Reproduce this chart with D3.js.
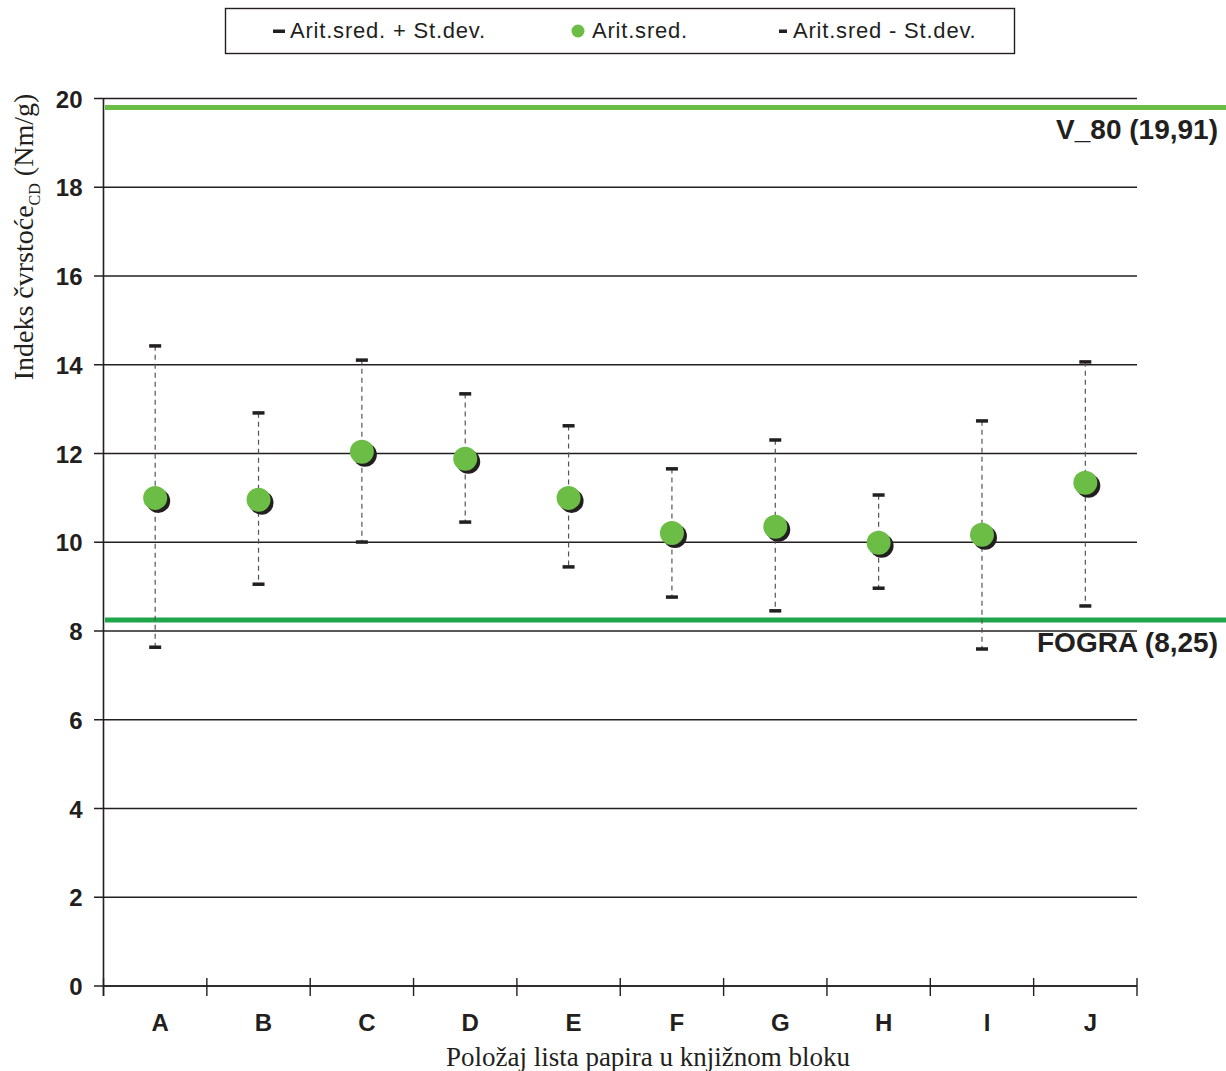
<!DOCTYPE html>
<html>
<head>
<meta charset="utf-8">
<script src="https://cdn.jsdelivr.net/npm/d3@7"></script>
<style>
  body { margin: 0; background: #fff; }
  svg { display: block; }
</style>
</head>
<body>
<svg width="1226" height="1071"></svg>
<script>
(function (d3) {
    'use strict';

    // data
    const categories = ['A', 'B', 'C', 'D', 'E', 'F', 'G', 'H', 'I', 'J'];
    const meanValues = [11.0, 10.96, 12.04, 11.88, 11.0, 10.21, 10.35, 9.99, 10.17, 11.34];
    const upperValues = [14.43, 12.92, 14.11, 13.35, 12.63, 11.66, 12.31, 11.07, 12.74, 14.07];
    const lowerValues = [7.64, 9.06, 10.01, 10.46, 9.45, 8.77, 8.46, 8.97, 7.60, 8.57];
    const yTicks = [0, 2, 4, 6, 8, 10, 12, 14, 16, 18, 20];
    const refNames = ['V_80 (19,91)', 'FOGRA (8,25)'];
    const refValues = [19.8, 8.25];
    const refColors = ['#6cbd45', '#1fa64b'];
    const legendNames = ['Arit.sred. + St.dev.', 'Arit.sred.', 'Arit.sred - St.dev.'];

    const svg = d3.select('svg');
    const ink = '#231f20';
    const green = '#6cbd45';
    const sans = 'Liberation Sans, Arial, sans-serif';
    const serif = 'Liberation Serif, Times New Roman, serif';

    const x = d3.scaleBand().domain(categories).range([103.5, 1137]);
    const y = d3.scaleLinear().domain([0, 20]).range([986, 98.5]);

    // gridlines
    svg.append('g')
        .selectAll('line').data(yTicks).enter().append('line')
        .attr('x1', 94).attr('x2', 1137)
        .attr('y1', d => y(d)).attr('y2', d => y(d))
        .attr('stroke', ink).attr('stroke-width', 1.4);

    // y axis
    const yAxis = svg.append('g')
        .attr('transform', 'translate(103.5,0)')
        .call(d3.axisLeft(y).tickValues(yTicks).tickSize(0).tickPadding(21));
    yAxis.select('.domain').attr('stroke', ink).attr('stroke-width', 1.6)
        .attr('d', 'M0,' + y(20) + 'V' + (y(0) + 10));
    yAxis.selectAll('text')
        .attr('font-family', sans)
        .attr('font-weight', 'bold').attr('font-size', 24).attr('fill', ink)
        .attr('dy', '0.36em');

    // x axis
    const xAxis = svg.append('g')
        .attr('transform', 'translate(0,' + y(0) + ')')
        .call(d3.axisBottom(x).tickSize(0).tickPadding(28));
    xAxis.select('.domain').attr('stroke', ink).attr('stroke-width', 1.4)
        .attr('d', 'M103.5,0H1137');
    xAxis.selectAll('text')
        .attr('font-family', sans).attr('dx', 5)
        .attr('font-weight', 'bold').attr('font-size', 24).attr('fill', ink);
    const edges = categories.map(c => x(c)).concat([x.range()[1]]);
    xAxis.append('g').selectAll('line').data(edges).enter().append('line')
        .attr('x1', d => d).attr('x2', d => d)
        .attr('y1', -8).attr('y2', 10)
        .attr('stroke', ink).attr('stroke-width', 1.4);

    // reference lines
    const refs = refNames.map((n, i) => ({ name: n, value: refValues[i], color: refColors[i] }));
    svg.append('g').selectAll('line').data(refs).enter().append('line')
        .attr('x1', 105).attr('x2', 1226)
        .attr('y1', d => y(d.value)).attr('y2', d => y(d.value))
        .attr('stroke', d => d.color).attr('stroke-width', 5);
    svg.append('g').selectAll('text').data(refs).enter().append('text')
        .attr('x', 1218).attr('y', d => y(d.value) + 32)
        .attr('text-anchor', 'end')
        .attr('font-family', sans)
        .attr('font-weight', 'bold').attr('font-size', 28).attr('fill', ink)
        .text(d => d.name);

    // error bars and points
    const rows = categories.map((c, i) => ({
        cat: c, mean: meanValues[i], hi: upperValues[i], lo: lowerValues[i]
    }));
    const cx = d => x(d.cat) + x.bandwidth() / 2;
    const g = svg.append('g');
    g.selectAll('.whisker').data(rows).enter().append('line')
        .attr('class', 'whisker')
        .attr('x1', cx).attr('x2', cx)
        .attr('y1', d => y(d.hi)).attr('y2', d => y(d.lo))
        .attr('stroke', '#555').attr('stroke-width', 1.2)
        .attr('stroke-dasharray', '5,4');
    ['hi', 'lo'].forEach(k => {
        g.selectAll('.cap-' + k).data(rows).enter().append('rect')
            .attr('class', 'cap-' + k)
            .attr('x', d => cx(d) - 6).attr('y', d => y(d[k]) - 1.5)
            .attr('width', 12).attr('height', 3.5)
            .attr('fill', ink);
    });
    g.selectAll('.shadow').data(rows).enter().append('circle')
        .attr('cx', d => cx(d) + 3).attr('cy', d => y(d.mean) + 3)
        .attr('r', 12).attr('fill', ink);
    g.selectAll('.dot').data(rows).enter().append('circle')
        .attr('cx', cx).attr('cy', d => y(d.mean))
        .attr('r', 12).attr('fill', green);

    // axis titles
    svg.append('text')
        .attr('x', 648).attr('y', 1066).attr('text-anchor', 'middle')
        .attr('font-family', serif)
        .attr('font-size', 27).attr('fill', ink)
        .text('Položaj lista papira u knjižnom bloku');
    const yt = svg.append('text')
        .attr('transform', 'translate(33,237) rotate(-90)')
        .attr('text-anchor', 'middle')
        .attr('font-family', serif)
        .attr('font-size', 28).attr('fill', ink);
    yt.append('tspan').text('Indeks čvrstoće');
    yt.append('tspan').attr('font-size', 16).attr('dy', 7).text('CD');
    yt.append('tspan').attr('dy', -7).text(' (Nm/g)');

    // legend
    const leg = svg.append('g');
    leg.append('rect')
        .attr('x', 225.5).attr('y', 8.5).attr('width', 789).attr('height', 45)
        .attr('fill', '#fff').attr('stroke', ink).attr('stroke-width', 1.4);
    const legX = [290, 592, 793];
    legendNames.forEach((name, i) => {
        if (i === 1) {
            leg.append('circle').attr('cx', legX[i] - 14).attr('cy', 31)
                .attr('r', 6.5).attr('fill', green);
        } else {
            leg.append('rect').attr('x', legX[i] - (i === 0 ? 17 : 14)).attr('y', 29.5)
                .attr('width', i === 0 ? 12 : 8).attr('height', 3.5).attr('fill', ink);
        }
        leg.append('text')
            .attr('x', legX[i]).attr('y', 38)
            .attr('font-family', sans)
            .attr('font-size', 22).attr('letter-spacing', 0.8).attr('fill', ink)
            .text(name);
    });
}(d3));
</script>
</body>
</html>
